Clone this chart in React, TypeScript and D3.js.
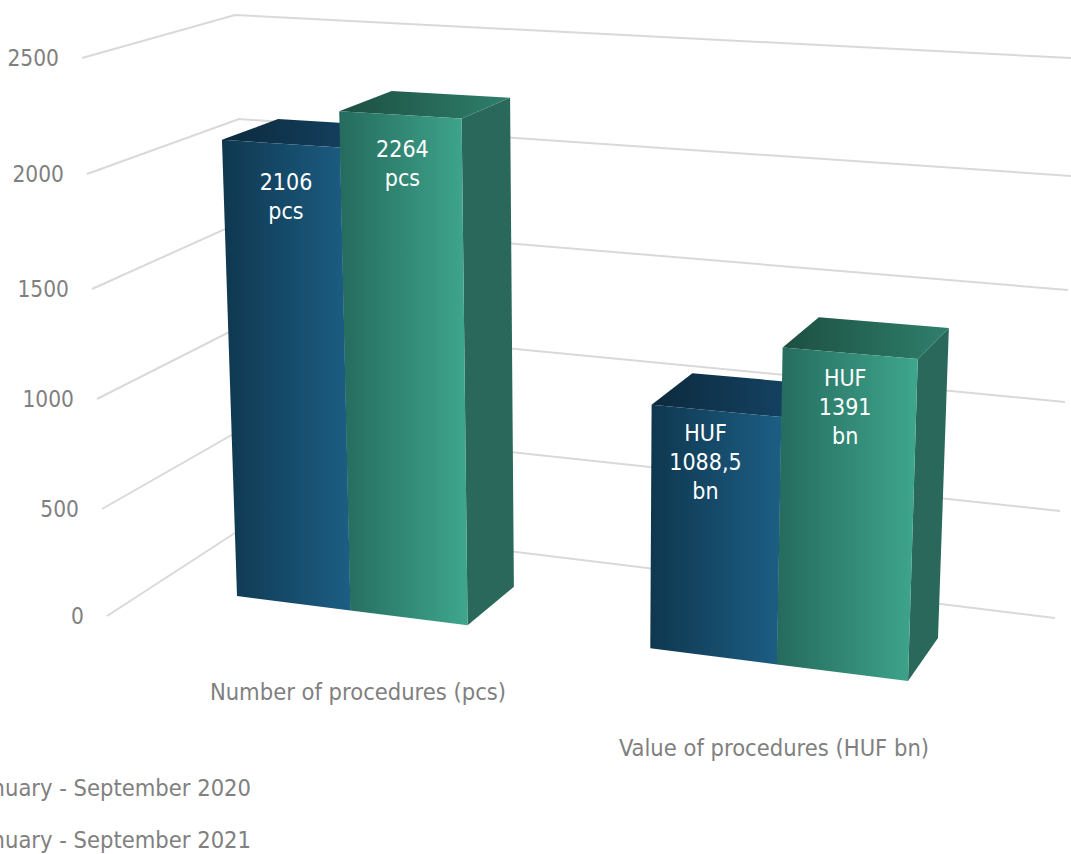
import React from "react";
import * as d3 from "d3";

// ---- data ----
const categories = ["Number of procedures (pcs)", "Value of procedures (HUF bn)"];
const seriesNames = ["January - September 2020", "January - September 2021"];
const series2020 = [2106, 1088.5];
const series2021 = [2264, 1391];
const labels2020 = [["2106", "pcs"], ["HUF", "1088,5", "bn"]];
const labels2021 = [["2264", "pcs"], ["HUF", "1391", "bn"]];
const tickValues = [0, 500, 1000, 1500, 2000, 2500];

// ---- layout of the 3D scene ----
const W = 1071, H = 854;
type Pt = [number, number];
const frontXs = [107, 102, 97, 92, 87, 82];
const frontYs = [616, 509, 399, 289, 174, 58];
const cornerXs = [255, 251, 247, 243, 239, 235];
const cornerYs = [520, 424, 323, 221, 119, 15];
const rightXs = [1055, 1060, 1065, 1068, 1071, 1071];
const rightYs = [618, 511, 402, 290, 176, 58];
const floorQuad: Pt[] = [[237, 596], [908, 681], [938, 638], [291, 559.8]];
const ceilQuad: Pt[] = [[219, 50.5], [926, 88], [958, 67], [275.5, 32.75]];

const fx = d3.scaleLinear(tickValues, frontXs);
const fy = d3.scaleLinear(tickValues, frontYs);
const cx = d3.scaleLinear(tickValues, cornerXs);
const cy = d3.scaleLinear(tickValues, cornerYs);
const rx = d3.scaleLinear(tickValues, rightXs);
const ry = d3.scaleLinear(tickValues, rightYs);
const lift = (v: number) => (fy(0) - fy(v)) / (fy(0) - fy(2500));

function homography(q: Pt[]) {
  const [[x0, y0], [x1, y1], [x2, y2], [x3, y3]] = q;
  const dx1 = x1 - x2, dx2 = x3 - x2, sx = x0 - x1 + x2 - x3;
  const dy1 = y1 - y2, dy2 = y3 - y2, sy = y0 - y1 + y2 - y3;
  const den = dx1 * dy2 - dx2 * dy1;
  const g = (sx * dy2 - dx2 * sy) / den;
  const h = (dx1 * sy - sx * dy1) / den;
  const a = x1 - x0 + g * x1, b = x3 - x0 + h * x3;
  const d = y1 - y0 + g * y1, e = y3 - y0 + h * y3;
  return (u: number, v: number): Pt => {
    const w = g * u + h * v + 1;
    return [(a * u + b * v + x0) / w, (d * u + e * v + y0) / w];
  };
}
const floorH = homography(floorQuad);
const ceilH = homography(ceilQuad);
const project = (u: number, v: number, val: number): Pt => {
  const f = floorH(u, v), c = ceilH(u, v), t = lift(val);
  return [f[0] + (c[0] - f[0]) * t, f[1] + (c[1] - f[1]) * t];
};

const catScale = d3.scaleBand<string>().domain(categories).range([0, 1]).paddingInner(3 / 7);
const serScale = d3.scaleBand<string>().domain(seriesNames).range([0, catScale.bandwidth()]);

const lineGen = d3.line();
const poly = (pts: Pt[]) => lineGen(pts)! + "Z";

const FONT = "'DejaVu Sans Condensed', 'DejaVu Sans', sans-serif";
const GREY = "#808080";

type BarDef = { cat: string; ser: string; value: number; lines: string[]; front: string; top: string; side: string; nudge: Pt };
const nudges2020: Pt[] = [[5, 38], [-11, 22]];
const nudges2021: Pt[] = [[2, 34], [-5, 25]];

const bars: BarDef[] = categories.flatMap((cat, i) => [
  { cat, ser: seriesNames[0], value: series2020[i], lines: labels2020[i], front: "url(#blueFront)", top: "url(#blueTop)", side: "#143f5a", nudge: nudges2020[i] },
  { cat, ser: seriesNames[1], value: series2021[i], lines: labels2021[i], front: "url(#greenFront)", top: "url(#greenTop)", side: "#29685a", nudge: nudges2021[i] },
]);

export default function App() {
  return (
    <svg width={W} height={H} viewBox={`0 0 ${W} ${H}`} style={{ position: "absolute", left: 0, top: 0, fontFamily: FONT }}>
      <defs>
        <linearGradient id="blueFront" x1="0" x2="1" y1="0" y2="0">
          <stop offset="0" stopColor="#0f374f" /><stop offset="1" stopColor="#1c5e84" />
        </linearGradient>
        <linearGradient id="greenFront" x1="0" x2="1" y1="0" y2="0">
          <stop offset="0" stopColor="#256b5d" /><stop offset="1" stopColor="#3fa68d" />
        </linearGradient>
        <linearGradient id="blueTop" x1="0" x2="1" y1="0" y2="0">
          <stop offset="0" stopColor="#0c2a3d" /><stop offset="1" stopColor="#16476a" />
        </linearGradient>
        <linearGradient id="greenTop" x1="0" x2="1" y1="0" y2="0">
          <stop offset="0" stopColor="#1c4f41" /><stop offset="1" stopColor="#2f7f6c" />
        </linearGradient>
      </defs>

      {tickValues.map((t) => (
        <path key={t} fill="none" stroke="#d9d9d9" strokeWidth={2}
          d={lineGen([[fx(t), fy(t)], [cx(t), cy(t)], [rx(t), ry(t)]])!} />
      ))}
      {tickValues.map((t) => (
        <text key={t} x={fx(t) - 23} y={fy(t)} dy="0.36em" textAnchor="end" fontSize={22.5} fill={GREY}>{t}</text>
      ))}

      {bars.map((b) => {
        const u0 = catScale(b.cat)! + serScale(b.ser)!;
        const u1 = u0 + serScale.bandwidth();
        const fl0 = project(u0, 0, 0), fr0 = project(u1, 0, 0), br0 = project(u1, 1, 0);
        const flT = project(u0, 0, b.value), frT = project(u1, 0, b.value);
        const brT = project(u1, 1, b.value), blT = project(u0, 1, b.value);
        const lx = (flT[0] + frT[0]) / 2 + b.nudge[0];
        const ly = (flT[1] + frT[1]) / 2 + b.nudge[1];
        return (
          <g key={b.cat + b.ser}>
            <path d={poly([fr0, br0, brT, frT])} fill={b.side} />
            <path d={poly([flT, frT, brT, blT])} fill={b.top} />
            <path d={poly([fl0, fr0, frT, flT])} fill={b.front} />
            {b.lines.map((s, i) => (
              <text key={i} x={lx} y={ly + i * 29} dy="0.36em" textAnchor="middle" fontSize={23} fill="#ffffff">{s}</text>
            ))}
          </g>
        );
      })}

      <text x={358} y={692} dy="0.36em" textAnchor="middle" fontSize={23.5} fill={GREY}>{categories[0]}</text>
      <text x={774} y={748} dy="0.36em" textAnchor="middle" fontSize={23.5} fill={GREY}>{categories[1]}</text>
      <text x={251} y={788} dy="0.36em" textAnchor="end" fontSize={23.5} fill={GREY}>{seriesNames[0]}</text>
      <text x={251} y={840} dy="0.36em" textAnchor="end" fontSize={23.5} fill={GREY}>{seriesNames[1]}</text>
    </svg>
  );
}
